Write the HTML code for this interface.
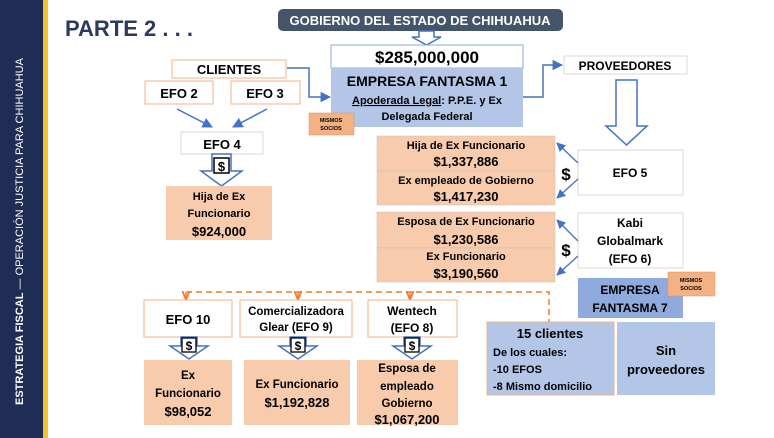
<!DOCTYPE html>
<html><head><meta charset="utf-8"><style>
body{margin:0;background:#fff;}
svg{display:block;font-family:"Liberation Sans",sans-serif;font-weight:bold;}
</style></head><body>
<svg width="774" height="438" viewBox="0 0 774 438" xmlns="http://www.w3.org/2000/svg">
<defs>
<marker id="ah" viewBox="0 0 10 10" refX="9" refY="5" markerWidth="7" markerHeight="7" orient="auto"><path d="M0,0 L10,5 L0,10 z" fill="#4472c4"/></marker>
<marker id="oh" viewBox="0 0 10 10" refX="9" refY="5" markerWidth="6" markerHeight="6" orient="auto"><path d="M0,1 L10,5 L0,9" fill="none" stroke="#ed7d31" stroke-width="2"/></marker>
</defs>
<rect x="0" y="0" width="43" height="438" fill="#1f2d54"/>
<rect x="43" y="0" width="5" height="438" fill="#f2c230"/>
<text transform="translate(23,405) rotate(-90)" fill="#fff" font-size="11" font-weight="normal"><tspan font-weight="bold">ESTRATEGIA FISCAL</tspan> — OPERACIÓN JUSTICIA PARA CHIHUAHUA</text>
<text x="65" y="36" font-size="22" fill="#2b3a5e" font-family="Liberation Sans">PARTE 2 . . .</text>

<rect x="278" y="9" width="285" height="22" rx="5" fill="#44546a"/>
<text x="420" y="25" font-size="13" fill="#fff" text-anchor="middle">GOBIERNO DEL ESTADO DE CHIHUAHUA</text>
<path d="M419,31 L434,31 L434,37 L441,37 L426.5,45 L412,37 L419,37 Z" fill="#fff" stroke="#4472c4" stroke-width="1.5"/>

<rect x="331" y="45" width="192" height="23" fill="#fff" stroke="#8faadc"/>
<text x="427" y="63" font-size="17" text-anchor="middle" fill="#000">$285,000,000</text>
<rect x="331" y="68" width="192" height="59" fill="#b4c6e7"/>
<text x="427" y="86" font-size="14" text-anchor="middle">EMPRESA FANTASMA 1</text>
<text x="427" y="104" font-size="11" text-anchor="middle"><tspan text-decoration="underline">Apoderada Legal</tspan>:  P.P.E. y Ex</text>
<text x="427" y="120" font-size="11" text-anchor="middle">Delegada Federal</text>
<rect x="309" y="113" width="45" height="22" fill="#f4b183" stroke="#e0905a" stroke-width="0.5"/>
<text x="331" y="122" font-size="5.5" text-anchor="middle">MISMOS</text>
<text x="331" y="130" font-size="5.5" text-anchor="middle">SOCIOS</text>

<rect x="172" y="60" width="114" height="18" fill="#fff" stroke="#f4b183"/>
<text x="229" y="74" font-size="13" text-anchor="middle">CLIENTES</text>
<polyline points="287,68 309,68 309,97 330,97" fill="none" stroke="#4472c4" stroke-width="1.5" marker-end="url(#ah)"/>
<rect x="145" y="81" width="68" height="23" fill="#fff" stroke="#f4b183"/>
<text x="179" y="98" font-size="13" text-anchor="middle">EFO 2</text>
<rect x="231" y="81" width="69" height="23" fill="#fff" stroke="#f4b183"/>
<text x="265" y="98" font-size="13" text-anchor="middle">EFO 3</text>
<line x1="177" y1="109" x2="212" y2="127" stroke="#4472c4" stroke-width="1.5" marker-end="url(#ah)"/>
<line x1="267" y1="109" x2="233" y2="127" stroke="#4472c4" stroke-width="1.5" marker-end="url(#ah)"/>
<rect x="181" y="132" width="82" height="22" fill="#fff" stroke="#d9d9d9"/>
<text x="222" y="149" font-size="13" text-anchor="middle">EFO 4</text>
<path d="M212,154 L231,154 L231,171 L242,171 L221.5,186 L201,171 L212,171 Z" fill="#fff" stroke="#4472c4" stroke-width="1.5"/>
<rect x="214" y="158" width="15" height="15" fill="#fff" stroke="#000" stroke-width="1.5"/>
<text x="221.5" y="171" font-size="13" text-anchor="middle">$</text>
<rect x="166" y="186" width="106" height="54" fill="#f8cbad"/>
<text x="219" y="200" font-size="11" text-anchor="middle">Hija de Ex</text>
<text x="219" y="217" font-size="11" text-anchor="middle">Funcionario</text>
<text x="219" y="236" font-size="13" text-anchor="middle">$924,000</text>

<rect x="564" y="56" width="123" height="18" fill="#fff" stroke="#d9d9d9"/>
<text x="625" y="70" font-size="12" text-anchor="middle">PROVEEDORES</text>
<polyline points="523,97 543,97 543,65 562,65" fill="none" stroke="#4472c4" stroke-width="1.5" marker-end="url(#ah)"/>
<path d="M616,80 L637,80 L637,126 L647,126 L626.5,145 L606,126 L616,126 Z" fill="#fff" stroke="#4472c4" stroke-width="1.5"/>

<g font-size="11" text-anchor="middle">
<rect x="377" y="136" width="178" height="35" fill="#f8cbad" stroke="#bfbfbf" stroke-width="0.5"/>
<text x="466" y="149">Hija de Ex Funcionario</text>
<text x="466" y="166" font-size="13">$1,337,886</text>
<rect x="377" y="171" width="178" height="34" fill="#f8cbad" stroke="#bfbfbf" stroke-width="0.5"/>
<text x="466" y="184">Ex empleado de Gobierno</text>
<text x="466" y="201" font-size="13">$1,417,230</text>
<rect x="377" y="212" width="178" height="36" fill="#f8cbad" stroke="#bfbfbf" stroke-width="0.5"/>
<text x="466" y="225">Esposa de Ex Funcionario</text>
<text x="466" y="244" font-size="13">$1,230,586</text>
<rect x="377" y="248" width="178" height="34" fill="#f8cbad" stroke="#bfbfbf" stroke-width="0.5"/>
<text x="466" y="260">Ex Funcionario</text>
<text x="466" y="278" font-size="13">$3,190,560</text>
</g>
<rect x="578" y="150" width="105" height="45" fill="#fff" stroke="#d9d9d9"/>
<text x="630" y="177" font-size="12" text-anchor="middle">EFO 5</text>
<rect x="578" y="213" width="105" height="55" fill="#fff" stroke="#d9d9d9"/>
<text x="630" y="227" font-size="12" text-anchor="middle">Kabi</text>
<text x="630" y="245" font-size="12" text-anchor="middle">Globalmark</text>
<text x="630" y="263" font-size="12" text-anchor="middle">(EFO 6)</text>
<text x="566" y="180" font-size="17" text-anchor="middle">$</text>
<text x="566" y="256" font-size="17" text-anchor="middle">$</text>
<line x1="578" y1="163" x2="557" y2="143" stroke="#4472c4" stroke-width="1.3" marker-end="url(#ah)"/>
<line x1="578" y1="179" x2="557" y2="198" stroke="#4472c4" stroke-width="1.3" marker-end="url(#ah)"/>
<line x1="578" y1="241" x2="557" y2="220" stroke="#4472c4" stroke-width="1.3" marker-end="url(#ah)"/>
<line x1="578" y1="256" x2="557" y2="275" stroke="#4472c4" stroke-width="1.3" marker-end="url(#ah)"/>

<rect x="578" y="278" width="105" height="40" fill="#8faadc"/>
<text x="630" y="294" font-size="12" text-anchor="middle">EMPRESA</text>
<text x="630" y="312" font-size="12" text-anchor="middle">FANTASMA 7</text>
<rect x="668" y="272" width="47" height="24" fill="#f4b183" stroke="#e0905a" stroke-width="0.5"/>
<text x="691" y="282" font-size="5.5" text-anchor="middle">MISMOS</text>
<text x="691" y="290" font-size="5.5" text-anchor="middle">SOCIOS</text>

<polyline points="186,292 549,292 549,322" fill="none" stroke="#ed7d31" stroke-width="1.5" stroke-dasharray="6,4"/>
<line x1="186" y1="292" x2="186" y2="299" stroke="#ed7d31" stroke-width="1.5" marker-end="url(#oh)"/>
<line x1="298" y1="292" x2="298" y2="299" stroke="#ed7d31" stroke-width="1.5" marker-end="url(#oh)"/>
<line x1="410" y1="292" x2="410" y2="299" stroke="#ed7d31" stroke-width="1.5" marker-end="url(#oh)"/>

<rect x="144" y="300" width="88" height="37" fill="#fff" stroke="#f4b183"/>
<text x="188" y="324" font-size="13" text-anchor="middle">EFO 10</text>
<rect x="240" y="300" width="112" height="37" fill="#fff" stroke="#f4b183"/>
<text x="296" y="315" font-size="11.5" text-anchor="middle">Comercializadora</text>
<text x="296" y="331" font-size="11.5" text-anchor="middle">Glear  (EFO 9)</text>
<rect x="368" y="300" width="89" height="37" fill="#fff" stroke="#f4b183"/>
<text x="412" y="315" font-size="12" text-anchor="middle">Wentech</text>
<text x="412" y="332" font-size="12" text-anchor="middle">(EFO 8)</text>

<g>
<path d="M181,337 L197,337 L197,346 L208,346 L189,359 L170,346 L181,346 Z" fill="#fff" stroke="#4472c4" stroke-width="1.5"/>
<rect x="182" y="338" width="14" height="14" fill="#fff" stroke="#000" stroke-width="1.3"/><text x="189" y="350" font-size="12" text-anchor="middle">$</text>
<path d="M290,337 L306,337 L306,346 L317,346 L298,359 L279,346 L290,346 Z" fill="#fff" stroke="#4472c4" stroke-width="1.5"/>
<rect x="291" y="338" width="14" height="14" fill="#fff" stroke="#000" stroke-width="1.3"/><text x="298" y="350" font-size="12" text-anchor="middle">$</text>
<path d="M404,337 L420,337 L420,346 L431,346 L412,359 L393,346 L404,346 Z" fill="#fff" stroke="#4472c4" stroke-width="1.5"/>
<rect x="405" y="338" width="14" height="14" fill="#fff" stroke="#000" stroke-width="1.3"/><text x="412" y="350" font-size="12" text-anchor="middle">$</text>
</g>

<g text-anchor="middle">
<rect x="144" y="360" width="88" height="65" fill="#f8cbad"/>
<text x="188" y="379" font-size="11.5">Ex</text>
<text x="188" y="397" font-size="11.5">Funcionario</text>
<text x="188" y="416" font-size="13">$98,052</text>
<rect x="244" y="360" width="106" height="65" fill="#f8cbad"/>
<text x="297" y="388" font-size="11.5">Ex Funcionario</text>
<text x="297" y="407" font-size="13">$1,192,828</text>
<rect x="357" y="360" width="101" height="65" fill="#f8cbad"/>
<text x="407" y="372" font-size="11.5">Esposa de</text>
<text x="407" y="390" font-size="11.5">empleado</text>
<text x="407" y="407" font-size="11.5">Gobierno</text>
<text x="407" y="424" font-size="13">$1,067,200</text>
</g>

<rect x="487" y="322" width="127" height="73" fill="#b4c6e7" stroke="#f4b183"/>
<text x="550" y="338" font-size="13" text-anchor="middle">15 clientes</text>
<text x="493" y="356" font-size="11">De los cuales:</text>
<text x="493" y="373" font-size="11">-10 EFOS</text>
<text x="493" y="390" font-size="11">-8 Mismo domicilio</text>
<rect x="617" y="322" width="98" height="73" fill="#b4c6e7"/>
<text x="666" y="355" font-size="13" text-anchor="middle">Sin</text>
<text x="666" y="374" font-size="13" text-anchor="middle">proveedores</text>
</svg>
</body></html>
